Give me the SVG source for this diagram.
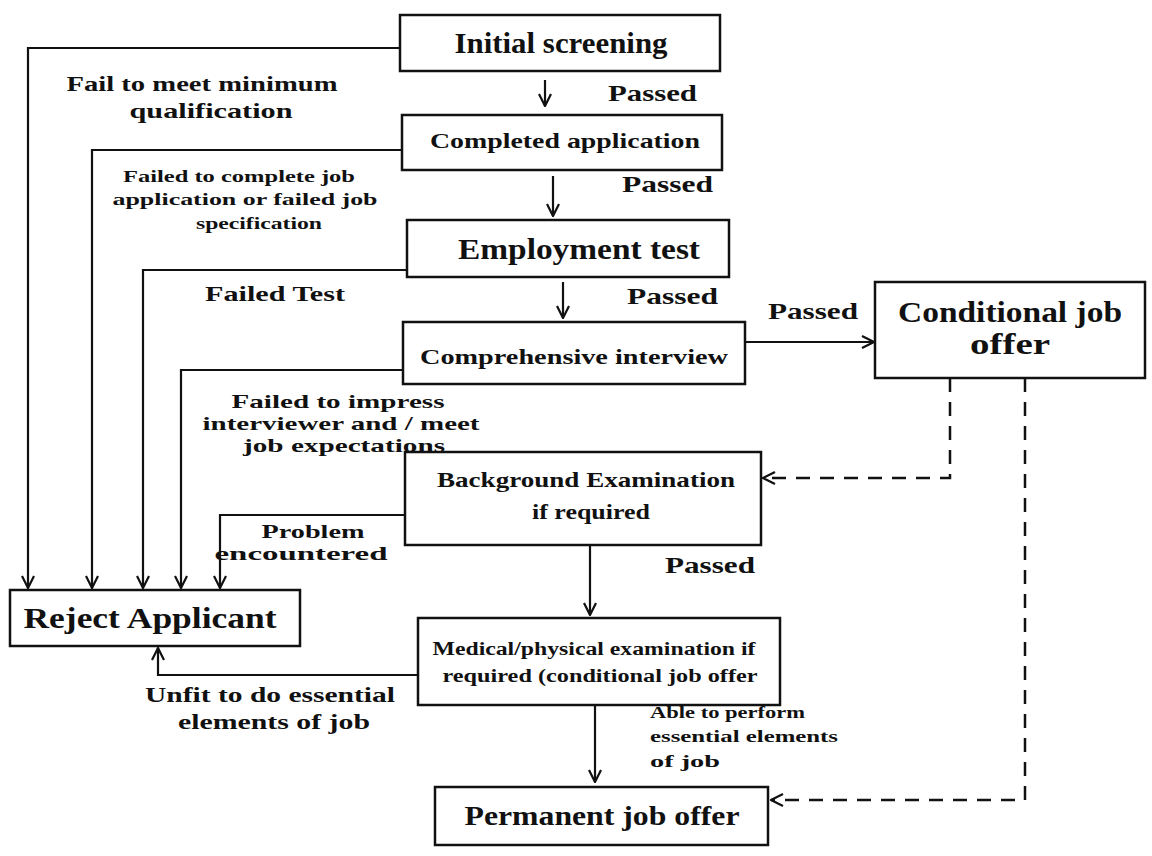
<svg xmlns="http://www.w3.org/2000/svg" width="1152" height="856" viewBox="0 0 1152 856">
<defs>
<style>
.box{fill:#fff;stroke:#111;stroke-width:2.5}
.t{font-family:"Liberation Serif",serif;font-weight:bold;fill:#111;text-anchor:middle}
.l{font-family:"Liberation Serif",serif;font-weight:bold;fill:#111}
.c{fill:none;stroke:#111;stroke-width:2.2}
.d{fill:none;stroke:#111;stroke-width:2.5;stroke-dasharray:14 10}
</style>
<marker id="arr" viewBox="0 0 14 14" refX="13" refY="7" markerWidth="14" markerHeight="14" markerUnits="userSpaceOnUse" orient="auto">
<path d="M1,1 L13,7 L1,13" fill="none" stroke="#111" stroke-width="2.2"/>
</marker>
</defs>
<rect width="1152" height="856" fill="#fff"/>

<g id="connectors">
<path class="c" d="M400,48 H28 V588" marker-end="url(#arr)"/>
<path class="c" d="M402,150 H92 V588" marker-end="url(#arr)"/>
<path class="c" d="M407,270 H143 V588" marker-end="url(#arr)"/>
<path class="c" d="M403,370 H181 V588" marker-end="url(#arr)"/>
<path class="c" d="M405,515 H220 V588" marker-end="url(#arr)"/>
<path class="c" d="M418,675 H158 V648" marker-end="url(#arr)"/>
<path class="c" d="M545,80 V106" marker-end="url(#arr)"/>
<path class="c" d="M553,176 V216" marker-end="url(#arr)"/>
<path class="c" d="M563,282 V318" marker-end="url(#arr)"/>
<path class="c" d="M745,342 H874" marker-end="url(#arr)"/>
<path class="c" d="M590,545 V615" marker-end="url(#arr)"/>
<path class="c" d="M595,705 V782" marker-end="url(#arr)"/>
<path class="d" d="M950,378 V478 H763" marker-end="url(#arr)"/>
<path class="d" d="M1025,378 V800 H771" marker-end="url(#arr)"/>
</g>

<g id="initial-screening">
<rect class="box" x="400" y="15" width="320" height="56"/>
<text class="t" x="561" y="53" font-size="29" textLength="213" lengthAdjust="spacingAndGlyphs">Initial screening</text>
</g>
<g id="completed-application">
<rect class="box" x="402" y="115" width="320" height="55"/>
<text class="t" x="565" y="148" font-size="22" textLength="270" lengthAdjust="spacingAndGlyphs">Completed application</text>
</g>
<g id="employment-test">
<rect class="box" x="407" y="220" width="322" height="57"/>
<text class="t" x="579" y="259" font-size="29" textLength="242" lengthAdjust="spacingAndGlyphs">Employment test</text>
</g>
<g id="comprehensive-interview">
<rect class="box" x="403" y="322" width="342" height="62"/>
<text class="t" x="574" y="364" font-size="21" textLength="308" lengthAdjust="spacingAndGlyphs">Comprehensive interview</text>
</g>
<g id="conditional-job-offer">
<rect class="box" x="875" y="282" width="270" height="96"/>
<text class="t" x="1010" y="322" font-size="29" textLength="224" lengthAdjust="spacingAndGlyphs">Conditional job</text>
<text class="t" x="1010" y="354" font-size="29" textLength="80" lengthAdjust="spacingAndGlyphs">offer</text>
</g>
<g id="background-examination">
<rect class="box" x="405" y="452" width="356" height="93"/>
<text class="t" x="586" y="487" font-size="22" textLength="298" lengthAdjust="spacingAndGlyphs">Background Examination</text>
<text class="t" x="591" y="519" font-size="22" textLength="118" lengthAdjust="spacingAndGlyphs">if required</text>
</g>
<g id="reject-applicant">
<rect class="box" x="10" y="590" width="290" height="56"/>
<text class="t" x="150" y="628" font-size="29" textLength="253" lengthAdjust="spacingAndGlyphs">Reject Applicant</text>
</g>
<g id="medical-examination">
<rect class="box" x="418" y="618" width="362" height="87"/>
<text class="t" x="594" y="655" font-size="18" textLength="323" lengthAdjust="spacingAndGlyphs">Medical/physical examination if</text>
<text class="t" x="600" y="682" font-size="18" textLength="315" lengthAdjust="spacingAndGlyphs">required (conditional job offer</text>
</g>
<g id="permanent-job-offer">
<rect class="box" x="435" y="787" width="333" height="58"/>
<text class="t" x="602" y="825" font-size="27" textLength="275" lengthAdjust="spacingAndGlyphs">Permanent job offer</text>
</g>

<g id="labels">
<text class="t" x="202" y="91" font-size="21" textLength="271" lengthAdjust="spacingAndGlyphs">Fail to meet minimum</text>
<text class="t" x="211" y="118" font-size="21" textLength="163" lengthAdjust="spacingAndGlyphs">qualification</text>
<text class="l" x="608" y="101" font-size="23" textLength="89" lengthAdjust="spacingAndGlyphs">Passed</text>
<text class="t" x="239" y="182" font-size="17" textLength="232" lengthAdjust="spacingAndGlyphs">Failed to complete job</text>
<text class="t" x="245" y="205" font-size="17" textLength="265" lengthAdjust="spacingAndGlyphs">application or failed job</text>
<text class="t" x="259" y="229" font-size="17" textLength="126" lengthAdjust="spacingAndGlyphs">specification</text>
<text class="l" x="622" y="192" font-size="23" textLength="91" lengthAdjust="spacingAndGlyphs">Passed</text>
<text class="l" x="205" y="301" font-size="22" textLength="140" lengthAdjust="spacingAndGlyphs">Failed Test</text>
<text class="l" x="627" y="304" font-size="23" textLength="91" lengthAdjust="spacingAndGlyphs">Passed</text>
<text class="l" x="768" y="319" font-size="23" textLength="90" lengthAdjust="spacingAndGlyphs">Passed</text>
<text class="t" x="338" y="408" font-size="19" textLength="213" lengthAdjust="spacingAndGlyphs">Failed to impress</text>
<text class="t" x="341" y="430" font-size="19" textLength="277" lengthAdjust="spacingAndGlyphs">interviewer and / meet</text>
<text class="t" x="344" y="452" font-size="19" textLength="202" lengthAdjust="spacingAndGlyphs">job expectations</text>
<text class="t" x="313" y="538" font-size="18" textLength="103" lengthAdjust="spacingAndGlyphs">Problem</text>
<text class="t" x="301" y="560" font-size="18" textLength="173" lengthAdjust="spacingAndGlyphs">encountered</text>
<text class="l" x="665" y="573" font-size="23" textLength="90" lengthAdjust="spacingAndGlyphs">Passed</text>
<text class="t" x="270" y="702" font-size="22" textLength="250" lengthAdjust="spacingAndGlyphs">Unfit to do essential</text>
<text class="t" x="274" y="729" font-size="22" textLength="192" lengthAdjust="spacingAndGlyphs">elements of job</text>
<text class="l" x="650" y="718" font-size="17" textLength="155" lengthAdjust="spacingAndGlyphs">Able to perform</text>
<text class="l" x="650" y="742" font-size="17" textLength="188" lengthAdjust="spacingAndGlyphs">essential elements</text>
<text class="l" x="650" y="767" font-size="17" textLength="70" lengthAdjust="spacingAndGlyphs">of job</text>
</g>
</svg>
